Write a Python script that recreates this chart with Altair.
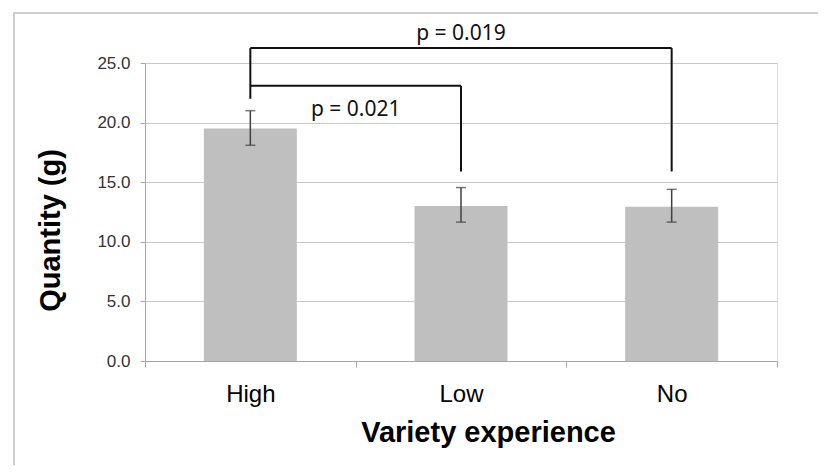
import altair as alt
import pandas as pd

categories = ["High", "Low", "No"]
means = [19.5, 13.0, 12.95]
err_low = [18.1, 11.65, 11.65]
err_high = [21.0, 14.55, 14.4]

bracket_from = ["High", "High"]
bracket_to = ["Low", "No"]
bracket_level = [23.1, 26.25]
bracket_start = 22.0
bracket_end = [15.9, 15.9]
p_labels = ["p = 0.021", "p = 0.019"]
p_label_y = [21.05, 27.4]

y_ticks = [0, 5, 10, 15, 20, 25]

bars_df = pd.DataFrame({"cat": categories, "mean": means, "lo": err_low, "hi": err_high})
hseg_df = pd.DataFrame({"a": bracket_from, "b": bracket_to, "level": bracket_level})
legs_df = pd.DataFrame({
    "cat": [bracket_from[0]] + bracket_to,
    "lo": [bracket_start] + bracket_end,
    "hi": [max(bracket_level)] + bracket_level,
})

FONT = "Liberation Sans, Arial, sans-serif"

xscale = alt.Scale(domain=categories, paddingInner=0, paddingOuter=0)
yscale = alt.Scale(domain=[0, 25], nice=False)

x_enc = alt.X(
    "cat:N", scale=xscale, sort=categories, title="Variety experience",
    axis=alt.Axis(
        labelAngle=0, labelFont=FONT, labelFontSize=24, labelColor="#000000",
        labelPadding=15, tickBand="extent", tickSize=6, tickColor="#a6a6a6",
        domainColor="#a6a6a6", grid=False, titleFont=FONT, titleFontSize=29,
        titleFontWeight="bold", titleColor="#000000", titleX=343, titleY=80,
        titleBaseline="alphabetic",
    ),
)
y_enc = alt.Y(
    "mean:Q", scale=yscale, title="Quantity (g)",
    axis=alt.Axis(
        values=y_ticks, format=".1f", labelFont=FONT, labelFontSize=17,
        labelColor="#333333", labelPadding=10, tickSize=5, tickColor="#a6a6a6",
        domainColor="#a6a6a6", gridColor="#c8c8c8", titleFont=FONT,
        titleFontSize=29, titleFontWeight="bold", titleColor="#000000",
        titleX=-80, titleY=167, titleBaseline="bottom",
    ),
)

frame = alt.Chart(pd.DataFrame({"k": [0]})).mark_rect(
    fill=None, stroke="#c0c0c0", strokeWidth=1.5
).encode(x=alt.value(-131), x2=alt.value(720), y=alt.value(-50), y2=alt.value(480))

bars = alt.Chart(bars_df).mark_bar(size=93, color="#bfbfbf").encode(x=x_enc, y=y_enc)

err = alt.Chart(bars_df).mark_rule(color="#404040", strokeWidth=1.5).encode(
    x=alt.X("cat:N", scale=xscale, sort=categories), y=alt.Y("lo:Q", scale=yscale), y2="hi:Q"
)
cap_lo = alt.Chart(bars_df).mark_tick(color="#404040", size=10, thickness=1.5, orient="horizontal").encode(
    x=alt.X("cat:N", scale=xscale, sort=categories), y=alt.Y("lo:Q", scale=yscale)
)
cap_hi = alt.Chart(bars_df).mark_tick(color="#404040", size=10, thickness=1.5, orient="horizontal").encode(
    x=alt.X("cat:N", scale=xscale, sort=categories), y=alt.Y("hi:Q", scale=yscale)
)

hseg = alt.Chart(hseg_df).mark_rule(color="#111111", strokeWidth=2).encode(
    x=alt.X("a:N", scale=xscale, sort=categories), x2="b:N", y=alt.Y("level:Q", scale=yscale)
)
legs = alt.Chart(legs_df).mark_rule(color="#111111", strokeWidth=2).encode(
    x=alt.X("cat:N", scale=xscale, sort=categories), y=alt.Y("lo:Q", scale=yscale), y2="hi:Q"
)

t1 = alt.Chart(pd.DataFrame({"cat": [bracket_from[0]], "y": [p_label_y[0]], "t": [p_labels[0]]})).mark_text(
    font="Noto Sans", fontSize=21, color="#111111", baseline="middle"
).encode(
    x=alt.X("cat:N", scale=xscale, sort=categories, bandPosition=1), y=alt.Y("y:Q", scale=yscale), text="t:N"
)
t2 = alt.Chart(pd.DataFrame({"cat": [bracket_to[0]], "y": [p_label_y[1]], "t": [p_labels[1]]})).mark_text(
    font="Noto Sans", fontSize=21, color="#111111", baseline="middle"
).encode(
    x=alt.X("cat:N", scale=xscale, sort=categories), y=alt.Y("y:Q", scale=yscale), text="t:N"
)

chart = alt.layer(frame, bars, err, cap_lo, cap_hi, hseg, legs, t1, t2).properties(
    width=632, height=298,
    autosize=alt.AutoSizeParams(type="none"),
    padding={"left": 137, "top": 55, "right": 41, "bottom": 104},
).configure_view(stroke=None).configure(background="#ffffff")

chart.save("out.html", embed_options={"renderer": "svg", "actions": False})
